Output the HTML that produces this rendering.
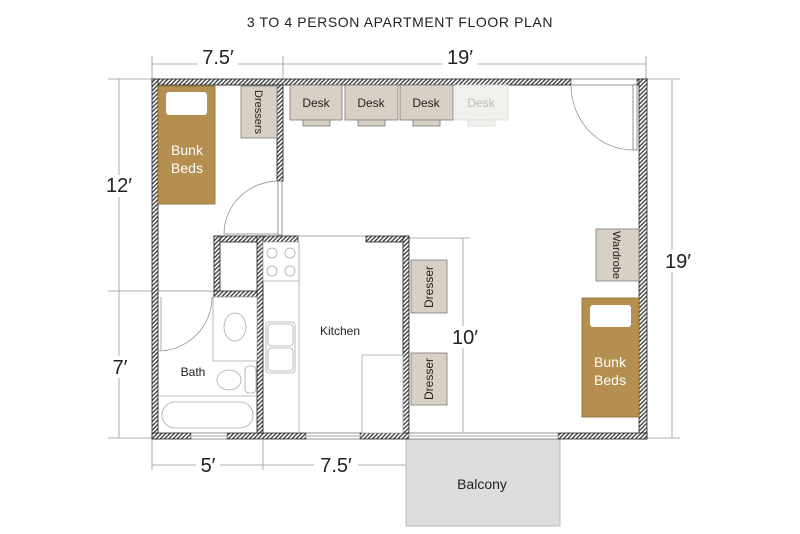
<!DOCTYPE html>
<html><head><meta charset="utf-8">
<style>
html,body{margin:0;padding:0;background:#fff;}
svg{display:block;}
text{font-family:"Liberation Sans",sans-serif;}
</style></head>
<body>
<svg width="800" height="534" viewBox="0 0 800 534" xmlns="http://www.w3.org/2000/svg">
<defs>
<pattern id="h" width="3" height="3" patternUnits="userSpaceOnUse" patternTransform="rotate(45)">
<rect width="3" height="3" fill="#fff"/>
<rect width="1.4" height="3" fill="#444"/>
</pattern>
</defs>
<rect width="800" height="534" fill="#fff"/>
<text x="400" y="27" font-size="14" text-anchor="middle" fill="#222" letter-spacing="0.6">3 TO 4 PERSON APARTMENT FLOOR PLAN</text>

<!-- dimension lines -->
<g stroke="#999" stroke-width="0.8" fill="none">
<line x1="152" y1="64" x2="646" y2="64"/>
<line x1="152" y1="56" x2="152" y2="79"/>
<line x1="283" y1="56" x2="283" y2="79"/>
<line x1="646" y1="56" x2="646" y2="79"/>
<line x1="119" y1="79" x2="119" y2="438"/>
<line x1="108" y1="79" x2="152" y2="79"/>
<line x1="108" y1="291" x2="152" y2="291"/>
<line x1="108" y1="438" x2="152" y2="438"/>
<line x1="672" y1="79" x2="672" y2="438"/>
<line x1="646" y1="79" x2="680" y2="79"/>
<line x1="646" y1="438" x2="680" y2="438"/>
<line x1="152" y1="465" x2="409" y2="465"/>
<line x1="152" y1="440" x2="152" y2="470"/>
<line x1="263" y1="440" x2="263" y2="470"/>
<line x1="409" y1="440" x2="409" y2="470"/>
<line x1="463" y1="238" x2="463" y2="432"/>
<line x1="409" y1="238" x2="470" y2="238"/>
</g>
<g fill="#222" font-size="20" text-anchor="middle">
<rect x="198" y="50" width="40" height="20" fill="#fff"/>
<text x="218" y="64">7.5′</text>
<rect x="443" y="50" width="34" height="20" fill="#fff"/>
<text x="460" y="64">19′</text>
<rect x="105" y="175" width="28" height="22" fill="#fff"/>
<text x="119" y="192">12′</text>
<rect x="108" y="356" width="24" height="22" fill="#fff"/>
<text x="120" y="374">7′</text>
<rect x="662" y="250" width="32" height="22" fill="#fff"/>
<text x="678" y="268">19′</text>
<rect x="196" y="455" width="24" height="20" fill="#fff"/>
<text x="208" y="472">5′</text>
<rect x="314" y="455" width="44" height="20" fill="#fff"/>
<text x="336" y="472">7.5′</text>
<rect x="448" y="326" width="32" height="22" fill="#fff"/>
<text x="465" y="344">10′</text>
</g>

<!-- balcony -->
<rect x="406" y="439" width="154" height="87" fill="#ddd" stroke="#bbb"/>
<text x="482" y="489" font-size="14" text-anchor="middle" fill="#222">Balcony</text>

<!-- walls -->
<g fill="url(#h)" stroke="#222" stroke-width="0.8">
<rect x="152" y="79" width="419" height="6"/>
<rect x="637" y="79" width="10" height="6"/>
<rect x="152" y="79" width="6" height="360"/>
<rect x="639" y="79" width="8" height="360"/>
<rect x="152" y="433" width="39" height="6"/>
<rect x="227" y="433" width="79" height="6"/>
<rect x="360" y="433" width="49" height="6"/>
<rect x="558" y="433" width="89" height="6"/>
<rect x="277" y="85" width="6" height="96"/>
<rect x="214" y="236" width="84" height="6"/>
<rect x="366" y="236" width="43" height="6"/>
<rect x="403" y="236" width="6" height="197"/>
<rect x="214" y="236" width="6" height="61"/>
<rect x="214" y="291" width="49" height="6"/>
<rect x="257" y="236" width="6" height="197"/>
</g>
<!-- windows / openings -->
<g fill="#fff" stroke="#666" stroke-width="0.7">
<rect x="191" y="433" width="36" height="6"/>
<rect x="306" y="433" width="54" height="6"/>
<rect x="409" y="433" width="149" height="6"/>
<rect x="571" y="79" width="66" height="6"/>
<rect x="633" y="85" width="4" height="65"/>
<rect x="278" y="181" width="4" height="54"/>
</g>
<g stroke="#888" stroke-width="0.7" fill="none">
<line x1="307" y1="436" x2="359" y2="436"/><line x1="192" y1="436" x2="226" y2="436"/>
<line x1="410" y1="436" x2="557" y2="436"/>
<path d="M571 85 A62 65 0 0 0 633 150"/>
<path d="M278 181 A55 53 0 0 0 224 234"/>
<line x1="224" y1="234" x2="278" y2="234"/>
<line x1="158" y1="291" x2="214" y2="291"/>
<path d="M212 297 A54 54 0 0 1 158 351"/>
<line x1="161" y1="297" x2="161" y2="350"/>
<line x1="298" y1="236" x2="366" y2="236"/>
</g>

<!-- bath fixtures -->
<g stroke="#aaa" stroke-width="0.8" fill="#fff">
<rect x="213" y="297" width="44" height="64"/>
<ellipse cx="235" cy="327" rx="11" ry="14"/>
<ellipse cx="229" cy="380" rx="12" ry="10"/>
<rect x="245" y="366" width="11" height="27" rx="4"/>
<line x1="158" y1="396" x2="257" y2="396"/>
<rect x="162" y="402" width="91" height="26" rx="13"/>
</g>
<!-- kitchen -->
<g stroke="#aaa" stroke-width="0.8" fill="#fff">
<line x1="299" y1="242" x2="299" y2="433"/>
<rect x="263" y="242" width="36" height="39"/>
<circle cx="272" cy="253" r="5"/><circle cx="290" cy="253" r="5"/>
<circle cx="272" cy="271" r="5"/><circle cx="290" cy="271" r="5"/>
<rect x="266" y="322" width="29" height="51" rx="3"/>
<rect x="268" y="324" width="25" height="22" rx="3"/>
<rect x="268" y="348" width="25" height="23" rx="3"/>
<rect x="362" y="355" width="41" height="78"/>
</g>
<text x="340" y="335" font-size="12" text-anchor="middle" fill="#222">Kitchen</text>
<text x="193" y="376" font-size="12" text-anchor="middle" fill="#222">Bath</text>

<!-- furniture -->
<g stroke="#7a7a7a" stroke-width="0.8">
<rect x="158" y="86" width="57" height="118" fill="#b58f50" stroke="#8a6a35"/>
<rect x="166" y="92" width="41" height="23" rx="3" fill="#fff" stroke="none"/>
<rect x="582" y="298" width="57" height="119" fill="#b58f50" stroke="#8a6a35"/>
<rect x="590" y="305" width="41" height="22" rx="3" fill="#fff" stroke="none"/>
<rect x="241" y="86" width="36" height="52" fill="#d8d0c4"/>
<rect x="596" y="229" width="43" height="52" fill="#d8d0c4"/>
<rect x="411" y="260" width="36" height="53" fill="#d8d0c4"/>
<rect x="411" y="353" width="36" height="52" fill="#d8d0c4"/>
<rect x="290" y="85" width="52" height="35" fill="#d8d0c4"/>
<rect x="345" y="85" width="53" height="35" fill="#d8d0c4"/>
<rect x="400" y="85" width="53" height="35" fill="#d8d0c4"/>
<rect x="303" y="120" width="27" height="6" fill="#d8d0c4"/>
<rect x="358" y="120" width="27" height="6" fill="#d8d0c4"/>
<rect x="413" y="120" width="27" height="6" fill="#d8d0c4"/>
<rect x="455" y="85" width="53" height="35" fill="#f2f0ec" stroke="#ddd"/>
<rect x="468" y="120" width="27" height="6" fill="#f2f0ec" stroke="#ddd"/>
</g>
<g font-size="12" text-anchor="middle" fill="#222">
<text x="316" y="107">Desk</text>
<text x="371" y="107">Desk</text>
<text x="426" y="107">Desk</text>
<text x="481" y="107" fill="#bbb">Desk</text>
<text transform="translate(255,112) rotate(90)" font-size="11">Dressers</text>
<text transform="translate(613,255) rotate(90)" font-size="11">Wardrobe</text>
<text transform="translate(433,287) rotate(-90)">Dresser</text>
<text transform="translate(433,379) rotate(-90)">Dresser</text>
</g>
<g font-size="14" text-anchor="middle" fill="#fff">
<text x="187" y="155">Bunk</text><text x="187" y="173">Beds</text>
<text x="610" y="367">Bunk</text><text x="610" y="385">Beds</text>
</g>
</svg>
</body></html>
